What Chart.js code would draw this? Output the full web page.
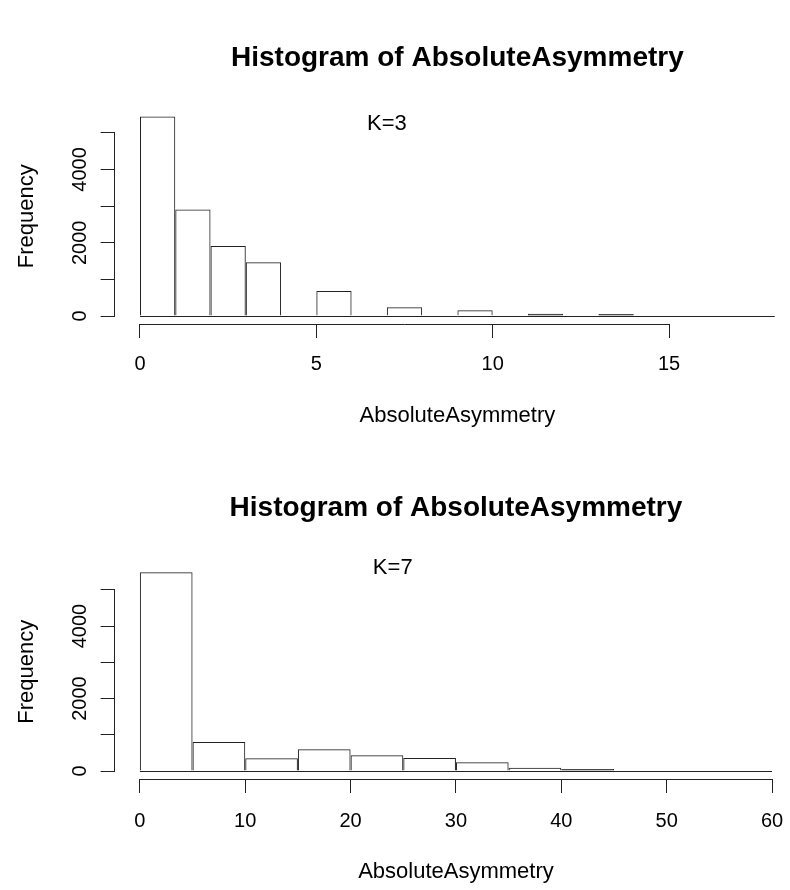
<!DOCTYPE html>
<html>
<head>
<meta charset="utf-8">
<title>Histogram of AbsoluteAsymmetry</title>
<script src="https://cdn.jsdelivr.net/npm/chart.js@4.4.1/dist/chart.umd.min.js"></script>
<style>
  html, body { margin: 0; padding: 0; background: #fff; overflow: hidden; }
  body { width: 790px; height: 890px; }
  canvas { display: block; }
</style>
</head>
<body>
<canvas id="histK3" width="802" height="445"></canvas>
<canvas id="histK7" width="802" height="445"></canvas>
<script>
// K=3 histogram: breaks of width 1
const breaksK3 = [0, 1, 2, 3, 4, 5, 6, 7, 8, 9, 10, 11, 12, 13, 14, 15, 16, 17, 18];
const countsK3 = [5450, 2910, 1910, 1470, 0, 680, 0, 240, 0, 160, 0, 60, 0, 55, 0, 0, 0, 0];
const xTicksK3 = [0, 5, 10, 15];
const yTicksK3 = [0, 1000, 2000, 3000, 4000, 5000];
const yLabelsK3 = [0, 2000, 4000];

// K=7 histogram: breaks of width 5
const breaksK7 = [0, 5, 10, 15, 20, 25, 30, 35, 40, 45, 50, 55, 60];
const countsK7 = [5480, 800, 350, 600, 435, 358, 240, 90, 60, 0, 0, 0];
const xTicksK7 = [0, 10, 20, 30, 40, 50, 60];
const yTicksK7 = [0, 1000, 2000, 3000, 4000, 5000];
const yLabelsK7 = [0, 2000, 4000];

const LINE = '#222';
const TEXT = '#000';
const FAMILY = "'Liberation Sans', Arial, sans-serif";

// R style axes: line only between first and last tick, rotated y labels, text note
const rAxes = {
  id: 'rAxes',
  afterDraw(chart, args, opts) {
    const {ctx, chartArea, scales: {x, y}} = chart;
    const align = p => Math.round(p - 0.5) + 0.5;
    ctx.save();
    ctx.strokeStyle = LINE;
    ctx.lineWidth = 1;

    // zero line under all bins (empty bins included)
    const y0 = align(y.getPixelForValue(0));
    ctx.beginPath();
    ctx.moveTo(x.getPixelForValue(opts.from), y0);
    ctx.lineTo(x.getPixelForValue(opts.to), y0);
    ctx.stroke();

    const xb = align(chartArea.bottom);
    ctx.beginPath();
    ctx.moveTo(align(x.getPixelForValue(x.ticks[0].value)), xb);
    ctx.lineTo(align(x.getPixelForValue(x.ticks[x.ticks.length - 1].value)), xb);
    ctx.stroke();

    const yl = align(chartArea.left);
    ctx.beginPath();
    ctx.moveTo(yl, align(y.getPixelForValue(y.ticks[0].value)));
    ctx.lineTo(yl, align(y.getPixelForValue(y.ticks[y.ticks.length - 1].value)));
    ctx.stroke();

    ctx.fillStyle = TEXT;
    ctx.font = '20px ' + FAMILY;
    ctx.textAlign = 'center';
    ctx.textBaseline = 'middle';
    opts.labels.forEach(v => {
      ctx.save();
      ctx.translate(chartArea.left - 34.6, y.getPixelForValue(v));
      ctx.rotate(-Math.PI / 2);
      ctx.fillText(String(v), 0, 0);
      ctx.restore();
    });

    ctx.font = '22px ' + FAMILY;
    ctx.fillText(opts.note.text, x.getPixelForValue(opts.note.x), y.getPixelForValue(opts.note.y));
    ctx.restore();
  }
};

// very short bars look like a solid line in R (outline top + bottom merge)
function barFill(c) {
  const s = c.chart.scales.y;
  if (!s || !c.parsed) return 'rgba(0,0,0,0)';
  const h = s.getPixelForValue(0) - s.getPixelForValue(c.parsed.y);
  return h > 0 && h < 3 ? LINE : 'rgba(0,0,0,0)';
}

function makeHist(id, breaks, counts, xTicks, yTicks, yLabels, note, lay) {
  const data = counts.map((c, i) => ({x: (breaks[i] + breaks[i + 1]) / 2, y: c}));
  const span = breaks[breaks.length - 1] - breaks[0];
  const top = Math.max(...counts);

  return new Chart(document.getElementById(id), {
    type: 'bar',
    data: {
      datasets: [{
        data,
        backgroundColor: barFill,
        borderColor: LINE,
        borderWidth: 1,
        borderSkipped: 'start',
        barPercentage: 1,
        categoryPercentage: 1,
        inflateAmount: 0
      }]
    },
    plugins: [rAxes],
    options: {
      responsive: false,
      animation: false,
      devicePixelRatio: 1,
      layout: { padding: { left: 0, top: 0, bottom: 0, right: lay.padRight } },
      plugins: {
        legend: { display: false },
        tooltip: { enabled: false },
        title: {
          display: true,
          text: 'Histogram of AbsoluteAsymmetry',
          fullSize: false,
          color: TEXT,
          font: { family: FAMILY, size: 28, weight: 'bold' },
          padding: lay.titlePad
        },
        rAxes: { note, labels: yLabels, from: breaks[0], to: breaks[breaks.length - 1] }
      },
      scales: {
        x: {
          type: 'linear',
          offset: false,
          bounds: 'data',
          min: breaks[0] - 0.04 * span,
          max: breaks[breaks.length - 1] + 0.04 * span,
          afterBuildTicks: s => { s.ticks = xTicks.map(v => ({value: v})); },
          afterFit: s => { s.height = lay.xHeight; },
          border: { display: false },
          grid: { offset: false, drawOnChartArea: false, drawTicks: true, tickLength: 14, tickColor: LINE },
          ticks: { color: TEXT, font: { family: FAMILY, size: 20 }, padding: lay.xLabelPad, maxRotation: 0, autoSkip: false },
          title: { display: true, text: 'AbsoluteAsymmetry', color: TEXT, font: { family: FAMILY, size: 22 }, padding: { top: 0, bottom: lay.xTitlePad } }
        },
        y: {
          type: 'linear',
          bounds: 'data',
          min: -0.04 * top,
          max: 1.04 * top,
          afterBuildTicks: s => { s.ticks = yTicks.map(v => ({value: v})); },
          afterFit: s => { s.width = 114.6; },
          border: { display: false },
          grid: { drawOnChartArea: false, drawTicks: true, tickLength: 14, tickColor: LINE },
          ticks: { display: false },
          title: { display: true, text: 'Frequency', color: TEXT, font: { family: FAMILY, size: 22 }, padding: { top: 13.8, bottom: 0 } }
        }
      }
    }
  });
}

makeHist('histK3', breaksK3, countsK3, xTicksK3, yTicksK3, yLabelsK3,
  { text: 'K=3', x: 7, y: 5250 },
  { titlePad: { top: 41.7, bottom: 33.1 }, xHeight: 121, xLabelPad: 14.4, xTitlePad: 15.7, padRight: 1.8 });

makeHist('histK7', breaksK7, countsK7, xTicksK7, yTicksK7, yLabelsK7,
  { text: 'K=7', x: 24, y: 5600 },
  { titlePad: { top: 46.7, bottom: 39.1 }, xHeight: 111, xLabelPad: 16.1, xTitlePad: 4.4, padRight: 4.7 });
</script>
</body>
</html>
